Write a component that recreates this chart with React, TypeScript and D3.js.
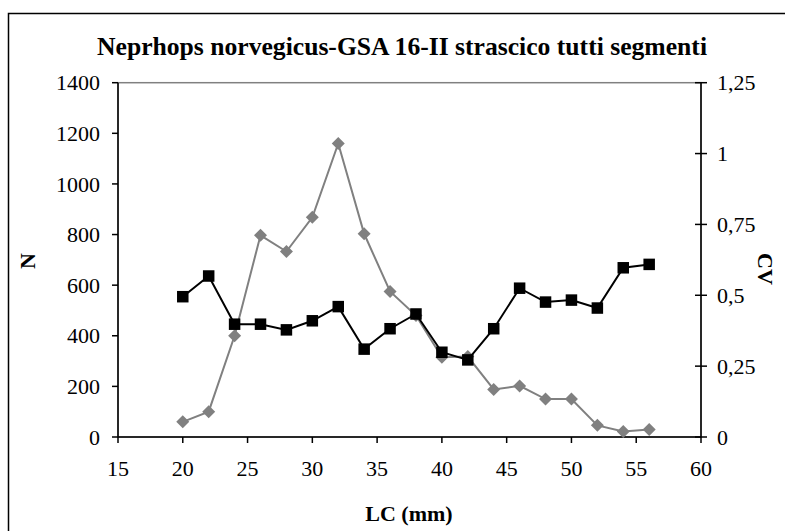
import React from "react";
import * as d3 from "d3";

const lengths = [20, 22, 24, 26, 28, 30, 32, 34, 36, 38, 40, 42, 44, 46, 48, 50, 52, 54, 56];
const nValues = [60, 100, 400, 797, 733, 868, 1160, 803, 575, 480, 315, 318, 188, 202, 150, 150, 46, 22, 30];
const cvValues = [0.495, 0.568, 0.398, 0.398, 0.378, 0.41, 0.46, 0.31, 0.382, 0.434, 0.299, 0.272, 0.382, 0.525, 0.476, 0.483, 0.455, 0.597, 0.609];
const xTicks = [15, 20, 25, 30, 35, 40, 45, 50, 55, 60];
const nTicks = [0, 200, 400, 600, 800, 1000, 1200, 1400];
const cvTicks = [0, 0.25, 0.5, 0.75, 1, 1.25];
const cvTickLabels = ["0", "0,25", "0,5", "0,75", "1", "1,25"];

const W = 785;
const H = 531;
const L = 118;
const R = 701;
const T = 82.7;
const B = 437;
const FONT = "'Liberation Serif', 'Times New Roman', serif";

export default function App() {
  const x = d3.scaleLinear().domain([15, 60]).range([L, R]);
  const yN = d3.scaleLinear().domain([0, 1400]).range([B, T]);
  const yCV = d3.scaleLinear().domain([0, 1.25]).range([B, T]);

  const lineN = d3
    .line<number>()
    .x((_, i) => x(lengths[i]))
    .y((d) => yN(d));
  const lineCV = d3
    .line<number>()
    .x((_, i) => x(lengths[i]))
    .y((d) => yCV(d));

  const dm = 6.5;
  const sq = 5.75;

  return (
    <div style={{ position: "fixed", left: 0, top: 0 }}>
      <svg width={W} height={H} style={{ display: "block", fontFamily: FONT }}>
        <rect x={0} y={0} width={W} height={H} fill="#fff" />
        <rect x={8.5} y={13.5} width={W + 20} height={H + 20} fill="none" stroke="#000" strokeWidth={1.5} />
        <text
          x={402}
          y={55}
          textAnchor="middle"
          fontWeight="bold"
          fontSize={25}
          textLength={610}
          lengthAdjust="spacingAndGlyphs"
        >
          Neprhops norvegicus-GSA 16-II strascico tutti segmenti
        </text>
        {/* plot area border */}
        <rect x={L} y={T} width={R - L} height={B - T} fill="none" stroke="#808080" strokeWidth={1.5} />
        {/* axes */}
        <line x1={L} y1={T} x2={L} y2={B} stroke="#000" strokeWidth={1.5} />
        <line x1={R} y1={T} x2={R} y2={B} stroke="#000" strokeWidth={1.5} />
        <line x1={L} y1={B} x2={R} y2={B} stroke="#000" strokeWidth={1.5} />
        {nTicks.map((t) => (
          <g key={"n" + t}>
            <line x1={L - 6} x2={L} y1={yN(t)} y2={yN(t)} stroke="#000" strokeWidth={1.5} />
            <text x={100} y={yN(t)} dy="0.35em" textAnchor="end" fontSize={22}>
              {t}
            </text>
          </g>
        ))}
        {cvTicks.map((t, i) => (
          <g key={"cv" + t}>
            <line x1={R - 6} x2={R + 6} y1={yCV(t)} y2={yCV(t)} stroke="#000" strokeWidth={1.5} />
            <text x={717} y={yCV(t)} dy="0.35em" textAnchor="start" fontSize={22}>
              {cvTickLabels[i]}
            </text>
          </g>
        ))}
        {xTicks.map((t) => (
          <g key={"x" + t}>
            <line x1={x(t)} x2={x(t)} y1={B} y2={B + 6} stroke="#000" strokeWidth={1.5} />
            <text x={x(t)} y={468} dy="0.35em" textAnchor="middle" fontSize={22}>
              {t}
            </text>
          </g>
        ))}
        <text x={409} y={513} dy="0.35em" textAnchor="middle" fontWeight="bold" fontSize={22}>
          LC (mm)
        </text>
        <text
          transform="translate(27,261) rotate(-90)"
          dy="0.35em"
          textAnchor="middle"
          fontWeight="bold"
          fontSize={22}
        >
          N
        </text>
        <text
          transform="translate(766,269) rotate(90)"
          dy="0.35em"
          textAnchor="middle"
          fontWeight="bold"
          fontSize={22}
        >
          CV
        </text>
        {/* N series */}
        <path d={lineN(nValues) || ""} fill="none" stroke="#808080" strokeWidth={2} />
        {nValues.map((v, i) => {
          const cx = x(lengths[i]);
          const cy = yN(v);
          return (
            <path
              key={"d" + i}
              d={`M${cx},${cy - dm}L${cx + dm},${cy}L${cx},${cy + dm}L${cx - dm},${cy}Z`}
              fill="#808080"
            />
          );
        })}
        {/* CV series */}
        <path d={lineCV(cvValues) || ""} fill="none" stroke="#000" strokeWidth={2} />
        {cvValues.map((v, i) => {
          const cx = x(lengths[i]);
          const cy = yCV(v);
          return <rect key={"s" + i} x={cx - sq} y={cy - sq} width={sq * 2} height={sq * 2} fill="#000" />;
        })}
      </svg>
    </div>
  );
}
